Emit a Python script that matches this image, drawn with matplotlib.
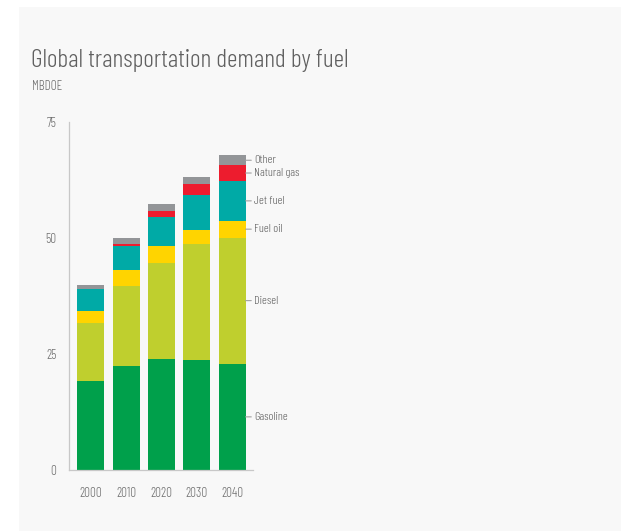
import matplotlib.pyplot as plt
from matplotlib.patches import Rectangle
import numpy as np

years = ['2000', '2010', '2020', '2030', '2040']
fuels = ['Gasoline', 'Diesel', 'Fuel oil', 'Jet fuel', 'Natural gas', 'Other']
gasoline = [19.2, 22.4, 23.9, 23.8, 22.9]
diesel = [12.5, 17.3, 20.8, 24.8, 27.2]
fuel_oil = [2.6, 3.5, 3.6, 3.1, 3.6]
jet_fuel = [4.6, 5.1, 6.3, 7.5, 8.6]
natural_gas = [0.1, 0.4, 1.3, 2.4, 3.4]
other = [0.9, 1.2, 1.4, 1.6, 2.1]
colors = ['#00a04b', '#bfcf2e', '#ffd400', '#00aaa6', '#ed1c2e', '#939598']

series = [gasoline, diesel, fuel_oil, jet_fuel, natural_gas, other]

plt.rcParams['font.family'] = ['Barlow Condensed', 'DejaVu Sans']
plt.rcParams['font.weight'] = 300

fig = plt.figure(figsize=(6.21, 5.31), dpi=100)
fig.patch.set_facecolor('white')
# light panel behind the chart
fig.patches.append(Rectangle((19 / 621, 0), 1, 1 - 7 / 531, transform=fig.transFigure,
                             facecolor='#f8f8f8', edgecolor='none', zorder=-10))

ax = fig.add_axes([0.1111, 0.1149, 0.2963, 0.6554])
ax.set_facecolor('none')

x = np.arange(len(years))
bottom = np.zeros(len(years))
for vals, c in zip(series, colors):
    ax.bar(x, vals, width=0.765, bottom=bottom, color=c, edgecolor='none')
    bottom += np.array(vals)

ax.set_xlim(-0.62, 4.59)
ax.set_ylim(0, 75)
ax.set_yticks([0, 25, 50, 75])
ax.set_xticks(x)
ax.set_xticklabels(years)
ax.tick_params(length=0, colors='#707070', labelsize=9.5)
ax.tick_params(axis='y', pad=9)
ax.tick_params(axis='x', pad=12)
for side in ['top', 'right']:
    ax.spines[side].set_visible(False)
for side in ['left', 'bottom']:
    ax.spines[side].set_color('#c8c8c8')
    ax.spines[side].set_linewidth(0.9)

# series labels next to the 2040 bar
last = [s[-1] for s in series]
cum = np.cumsum([0] + last)
for i, name in enumerate(fuels):
    mid = (cum[i] + cum[i + 1]) / 2
    ax.annotate(name, xy=(4.38, mid), xytext=(4.62, mid), xycoords='data', textcoords='data',
                va='center', ha='left', fontsize=8.7, color='#606060',
                arrowprops=dict(arrowstyle='-', color='#a0a0a0', lw=0.8,
                                shrinkA=0, shrinkB=0),
                annotation_clip=False)

fig.text(31 / 621, 1 - 61 / 531, 'Global transportation demand by fuel', fontsize=18.5,
         color='#606060', va='center', ha='left')
fig.text(32 / 621, 1 - 87 / 531, 'MBDOE', fontsize=9.5,
         color='#707070', va='center', ha='left')

fig.savefig('out.png', dpi=100)
